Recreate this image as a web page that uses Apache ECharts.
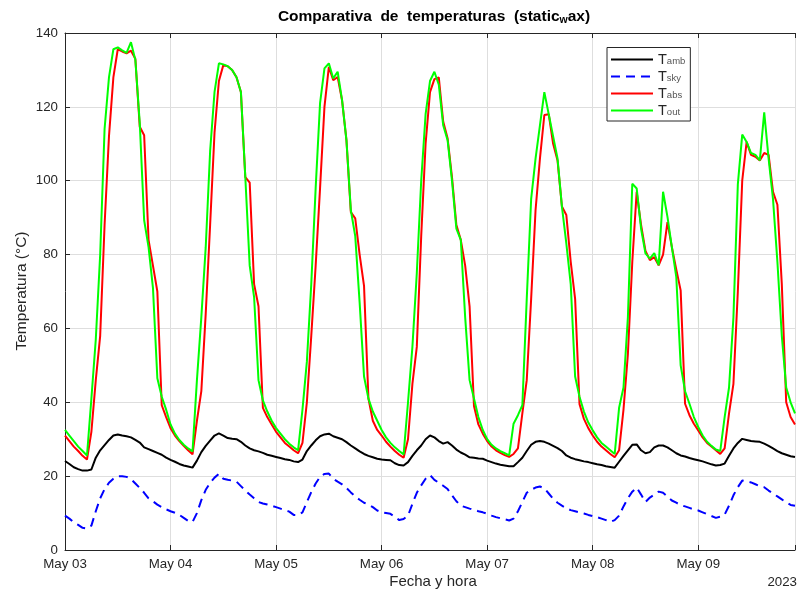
<!DOCTYPE html>
<html>
<head>
<meta charset="utf-8">
<title>Comparativa de temperaturas</title>
<script src="https://cdn.jsdelivr.net/npm/echarts@6/dist/echarts.min.js"></script>
<style>
  html, body { margin: 0; padding: 0; background: #fff; overflow: hidden; }
  #chart { width: 798px; height: 592px; }
</style>
</head>
<body>
<div id="chart"></div>
<script>
// Hourly samples starting May 03 00:00 (index = hours since start)
const dayLabels = ['May 03', 'May 04', 'May 05', 'May 06', 'May 07', 'May 08', 'May 09'];
const yearLabel = '2023';
const seriesNames = ['Tamb', 'Tsky', 'Tabs', 'Tout'];

// Ambient temperature (°C)
const tAmb = [
  24.1,23.3,22.4,21.9,21.5,21.5,21.8,25,27,28.4,29.8,31,31.3,31,30.8,30.5,29.8,29.1,27.8,27.3,26.8,26.3,25.8,25,
  24.4,23.9,23.3,22.9,22.6,22.3,24.2,26.5,28.2,29.6,31,31.6,31,30.3,30.1,30,29.3,28.3,27.5,27,26.7,26.3,25.8,25.5,
  25.2,24.9,24.6,24.4,24,23.8,24.5,26.8,28.3,29.7,30.8,31.3,31.5,30.8,30.4,30,29.2,28.3,27.5,26.7,26,25.5,25.1,24.7,
  24.5,24.4,24.3,23.5,23,22.9,23.8,25.5,27,28.3,30,31,30.5,29.5,28.8,29.2,28.3,27.2,26.4,25.8,25.1,25,24.8,24.7,
  24.2,23.8,23.4,23.1,22.9,22.7,22.7,23.8,25,26.8,28.5,29.3,29.5,29.3,28.8,28.2,27.6,26.8,25.6,25,24.6,24.3,24,23.8,
  23.5,23.2,23,22.7,22.5,22.3,23.9,25.5,27,28.5,28.6,27,26.2,26.5,27.8,28.3,28.3,27.8,27,26.2,25.6,25.3,24.9,24.6,
  24.3,24,23.6,23.2,22.9,23,23.4,25.5,27.5,29,30.1,29.8,29.5,29.4,29.3,28.8,28.2,27.5,26.8,26.2,25.8,25.4,25.2
];

// Sky temperature (°C)
const tSky = [
  9.3,8.5,7.5,6.8,6,5.8,6.6,10.5,14,16.5,18.2,19.3,20,20,19.8,19.2,18,16.8,15.5,14,13.2,12.3,11.6,11,
  10.5,10.1,9.5,8.7,7.9,7.6,10,13.5,16.3,18.2,19.6,20.6,19.3,19,18.8,18.5,17.3,16.1,15,14,13,12.6,12.3,12,
  11.6,11.2,10.8,10.4,9.5,9.5,10.2,13,15.7,18,19.8,20.6,20.7,19.3,18.5,17.8,16.8,15.6,14.5,13.6,12.8,12.3,11.6,10.7,
  10.2,10,9.8,9,8.1,8.4,9.3,12.5,15.5,17.5,19.3,20.3,19,18.2,17.4,16.5,14.8,13.2,12,11.6,11.2,10.9,10.5,10.2,
  9.8,9.3,8.9,8.6,8.3,8,8.5,10.5,13,15.5,16.3,16.9,17.2,16.7,15.3,13.9,12.8,12,11.3,10.8,10.5,10.2,9.9,9.5,
  9.2,8.9,8.5,8.1,7.6,8.1,9.3,11.8,14,15.8,16.9,15,13,14.2,15,15.8,15.5,14.5,13.4,12.8,12.2,11.8,11.4,11,
  10.7,10.2,9.7,9.2,8.7,9,9.6,12,14.8,17,18.8,18.6,18.3,17.8,17.3,17,16.1,15.3,14.5,13.7,12.9,12.2,12
];

// Absorber temperature (°C)
const tAbs = [
  31,29.5,28,26.8,25.5,24.5,32,46,58,88,112,128,135.6,135,134.5,135.2,133,114.6,112.3,84,77,70,39.2,36,
  33,31,29.5,28.2,27,25.9,35,43,64,88,113,127,131.3,131,130,128,124,101,99.5,72,66,38.5,36,34,
  32,30.5,29,28,27,26.2,29,40,58,77,98,120,130.8,127.2,128.1,121.8,111,91.5,89.8,80,71.5,41,35,32.5,
  31,29.3,28,26.8,25.8,25,30,45,55,85,110,124,127.5,128,116,111.5,101,88,84,77,66,39,34,31.5,
  29.5,28,27,26.3,25.7,25.2,26,27.5,37,46,68,92,106,117.8,118,110,105.5,93,90.7,78,68,39.5,35.5,33,
  31,29.3,28,27,26,25.1,27,38,53,78,97,88,81,78.5,79.3,77.1,80,88.8,82,76,70.3,39.6,36.5,34.2,
  32.4,30.5,29,28,27,26,27.5,37,45,70,100,110.5,107,106.5,105.5,107.5,107,97,93.5,72,40,36,34
];

// Outlet temperature (°C)
const tOut = [
  32.5,31,29.5,28,26.8,25.6,41,57,80,114,128,135.6,136.1,135.3,134.6,137.5,132.7,115.6,89.3,82,71,46.5,41.5,38,
  34,31.5,29.8,28.5,27.5,26.7,46,63,82,108,124,131.8,131.5,131,130,128,124,101,77,68.5,46,40.5,37.5,35,
  33,31.5,30,28.8,27.8,27,38,51,72,98,121,130.4,131.8,127.7,129.5,121.8,111,92,85,67,47,41,37.5,35,
  32.5,30.5,29,27.8,26.8,25.9,40,55,75,100,118,127,129.5,126,115,111,100,87,84,63,46,41,36,32.5,
  30,28.5,27.5,26.8,26.2,25.6,34.2,36.5,39.2,68,95,106,115,124,118,112,106,93,83,72,47,41.5,37.5,34.5,
  32.4,30.5,29,28,27,26,38.5,44,63,99.2,97.9,87,80.3,78.9,80.4,77.1,97,90.2,82,74,50,43,39.6,36,
  33.3,31,29.3,28.2,27.2,26.8,36,44,63,99,112.5,110.5,107.5,107,105.5,118.5,106,95,78,58,44,40,37
];

const FF = 'Liberation Sans, Arial, Helvetica, sans-serif';
const AX = '#262626';
const GRID = '#dedede';
const HOURS_MAX = 166;

const toPoints = arr => arr.map((v, i) => [i, v]);

const chart = echarts.init(document.getElementById('chart'), null, { renderer: 'canvas' });

const xCommon = {
  type: 'value',
  min: 0,
  max: HOURS_MAX,
  interval: 24,
  axisLine: { show: true, lineStyle: { color: AX, width: 1 } },
  axisTick: { show: true, inside: true, length: 5, lineStyle: { color: AX, width: 1 } }
};

function lineSeries(name, values, color, type) {
  return {
    name: name,
    type: 'line',
    data: toPoints(values),
    symbol: 'none',
    showSymbol: false,
    animation: false,
    silent: true,
    lineStyle: { color: color, width: 2, type: type || 'solid' },
    itemStyle: { color: color }
  };
}

chart.setOption({
  animation: false,
  backgroundColor: '#ffffff',
  textStyle: { fontFamily: FF },
  grid: { left: 65, right: -3, top: 33, bottom: 42, containLabel: false },
  xAxis: [
    Object.assign({}, xCommon, {
      position: 'bottom',
      axisLabel: {
        show: true,
        color: AX,
        fontFamily: FF,
        fontSize: 13.3,
        margin: 8,
        formatter: v => (v % 24 === 0 && dayLabels[v / 24]) ? dayLabels[v / 24] : ''
      },
      splitLine: { show: true, lineStyle: { color: GRID, width: 1 } }
    }),
    Object.assign({}, xCommon, {
      position: 'top',
      axisLabel: { show: false },
      splitLine: { show: false }
    })
  ],
  yAxis: {
    type: 'value',
    min: 0,
    max: 140,
    interval: 20,
    position: 'left',
    axisLine: { show: true, lineStyle: { color: AX, width: 1 } },
    axisTick: { show: true, inside: true, length: 5, lineStyle: { color: AX, width: 1 } },
    axisLabel: { color: AX, fontFamily: FF, fontSize: 13.3, margin: 7 },
    splitLine: { show: true, lineStyle: { color: GRID, width: 1 } }
  },
  legend: {
    data: seriesNames,
    orient: 'vertical',
    left: 607,
    top: 47.5,
    itemWidth: 42,
    itemHeight: 14,
    itemGap: 0.5,
    padding: [3, 5, 3, 3],
    backgroundColor: '#ffffff',
    borderColor: AX,
    borderWidth: 1,
    borderRadius: 0,
    selectedMode: false,
    // line sample only, no marker
    itemStyle: { opacity: 0, borderWidth: 0 },
    formatter: name => '{t|T}{s|' + name.slice(1) + '}',
    textStyle: {
      color: AX,
      fontFamily: FF,
      rich: {
        t: { fontFamily: FF, fontSize: 14.5, lineHeight: 14, color: AX },
        s: { fontFamily: FF, fontSize: 9.5, lineHeight: 8, padding: [6, 0, 0, 0], verticalAlign: 'bottom', color: '#555555' }
      }
    }
  },
  graphic: [
    {
      type: 'text', x: 434, y: 17, silent: true,
      style: {
        text: '{b|Comparativa  de  temperaturas  (static}{w|w}{b|ax)}',
        fontFamily: FF, fontSize: 15.5, fontWeight: 'bold', fill: '#000',
        align: 'center', verticalAlign: 'middle', textAlign: 'center', textVerticalAlign: 'middle',
        rich: {
          b: { fontFamily: FF, fontSize: 15.5, fontWeight: 'bold', lineHeight: 18 },
          w: { fontFamily: FF, fontSize: 10.5, fontWeight: 'bold', lineHeight: 12, padding: [6, 0, 0, 0], verticalAlign: 'bottom' }
        }
      }
    },
    {
      type: 'text', x: 22, y: 291, rotation: Math.PI / 2, silent: true,
      style: {
        text: 'Temperatura (°C)', fontFamily: FF, fontSize: 15.5, fill: AX,
        align: 'center', verticalAlign: 'middle', textAlign: 'center', textVerticalAlign: 'middle'
      }
    },
    {
      type: 'text', x: 433, y: 582, silent: true,
      style: {
        text: 'Fecha y hora', fontFamily: FF, fontSize: 15, fill: AX,
        align: 'center', verticalAlign: 'middle', textAlign: 'center', textVerticalAlign: 'middle'
      }
    },
    {
      type: 'text', x: 797, y: 582, silent: true,
      style: {
        text: yearLabel, fontFamily: FF, fontSize: 13.3, fill: AX,
        align: 'right', verticalAlign: 'middle', textAlign: 'right', textVerticalAlign: 'middle'
      }
    }
  ],
  series: [
    lineSeries(seriesNames[0], tAmb, '#000000'),
    lineSeries(seriesNames[1], tSky, '#0000ff', [9, 6]),
    lineSeries(seriesNames[2], tAbs, '#ff0000'),
    lineSeries(seriesNames[3], tOut, '#00ff00')
  ]
});
</script>
</body>
</html>
